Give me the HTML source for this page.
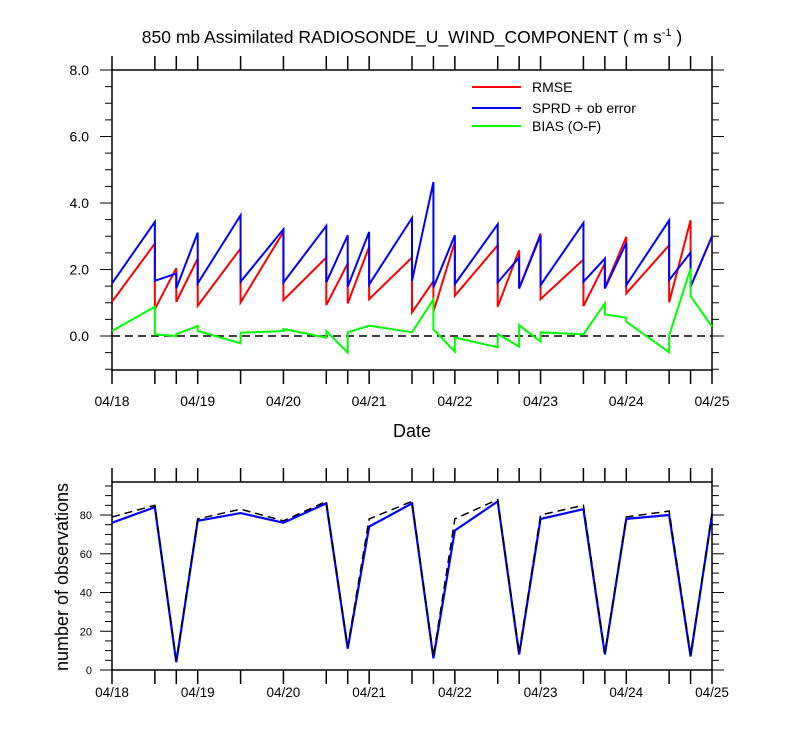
<!DOCTYPE html>
<html><head><meta charset="utf-8"><style>
body{margin:0;background:#fff}
svg text{font-family:"Liberation Sans",Arial,sans-serif;fill:#000}
</style></head><body>
<svg id="s" width="800" height="750" xmlns="http://www.w3.org/2000/svg">
<text x="412" y="43" font-size="17.5" text-anchor="middle">850 mb Assimilated RADIOSONDE_U_WIND_COMPONENT ( m s<tspan font-size="11" dy="-7">-1</tspan><tspan dy="7"> )</tspan></text>
<text x="412" y="437" font-size="18" text-anchor="middle">Date</text>
<text transform="translate(68,577) rotate(-90)" font-size="18" text-anchor="middle">number of observations</text>
<g id="legend">
<line x1="472" y1="87" x2="521" y2="87" stroke="#f00" stroke-width="2"/><text x="532" y="92" font-size="14">RMSE</text>
<line x1="472" y1="108" x2="521" y2="108" stroke="#00f" stroke-width="2"/><text x="532" y="113" font-size="14">SPRD + ob error</text>
<line x1="472" y1="126" x2="521" y2="126" stroke="#0f0" stroke-width="2"/><text x="532" y="131" font-size="14">BIAS (O-F)</text>
</g>
</svg>
<script>
const times=[0,0.5,0.75,1,1.5,2,2.5,2.75,3,3.5,3.75,4,4.5,4.75,5,5.5,5.75,6,6.5,6.75,7];
const dateLabels=["04/18","04/19","04/20","04/21","04/22","04/23","04/24","04/25"];
const topTicks=["0.0","2.0","4.0","6.0","8.0"];
const botTicks=["0","20","40","60","80"];
const rmseStart=[1.03,0.81,1.03,0.91,1.01,1.08,0.93,0.98,1.11,0.71,0.73,1.21,0.88,1.43,1.11,0.9,1.45,1.28,1.01,1.48];
const rmseEnd=[2.78,2.04,2.33,2.63,3.13,2.36,2.18,2.68,2.36,1.65,2.83,2.73,2.58,3.08,2.3,2.18,2.98,2.73,3.48,3.0];
const sprdStart=[1.58,1.66,1.43,1.58,1.63,1.61,1.61,1.48,1.55,1.66,1.46,1.56,1.61,1.43,1.53,1.63,1.43,1.53,1.68,1.48];
const sprdEnd=[3.43,1.88,3.11,3.63,3.21,3.31,3.03,3.13,3.55,4.63,3.03,3.36,2.36,3.03,3.4,2.33,2.8,3.48,2.51,3.0];
const biasStart=[0.15,0.05,0.06,0.15,0.1,0.21,0.15,0.11,0.31,0.11,0.2,-0.05,0.06,0.33,0.11,0.05,0.65,0.43,0.01,1.2];
const biasEnd=[0.88,0.0,0.3,-0.22,0.15,-0.05,-0.5,0.31,0.11,1.1,-0.47,-0.34,-0.32,-0.17,0.05,0.98,0.55,-0.49,2.03,0.28];
const obsUsed=[76,84,4,77,81,76,86,11,74,86,6,72,87,8,78,83,8,78,80,7,80];
const obsTotal=[79,85,5,78,83,77,87,12,78,87,7,78,88,9,80,85,9,79,82,8,81];

const svg=document.getElementById('s');const NS='http://www.w3.org/2000/svg';
const X0=112,X1=712;
const xs=t=>X0+(X1-X0)*t/7;
const yTop=v=>336-v*(266/8);
const yBot=v=>670-v*(155/80);
function mk(tag,attrs,parent){const e=document.createElementNS(NS,tag);for(const k in attrs)e.setAttribute(k,attrs[k]);(parent||svg).appendChild(e);return e;}
function frame(top,bot,name){
  const g=mk('g',{});
  
  
  mk('rect',{x:X0,y:top,width:X1-X0,height:bot-top,fill:'none',stroke:'#000','stroke-width':1.5},g);
  times.forEach(t=>{const x=xs(t);
    mk('line',{x1:x,y1:top,x2:x,y2:top-14,stroke:'#000','stroke-width':1.5},g);
    mk('line',{x1:x,y1:bot,x2:x,y2:bot+14,stroke:'#000','stroke-width':1.5},g);});
  return g;
}
const g1=frame(70,370,'top-plot-frame');
for(let v=-1;v<=8.001;v+=0.5){const y=yTop(v);const maj=Math.abs(v/2-Math.round(v/2))<1e-6;
  const L=maj?12:7;
  mk('line',{x1:X0,y1:y,x2:X0-L,y2:y,stroke:'#000'},g1);
  mk('line',{x1:X1,y1:y,x2:X1+L,y2:y,stroke:'#000'},g1);}
topTicks.forEach(s=>{const t=mk('text',{x:89,y:yTop(parseFloat(s))+5,'font-size':14,'text-anchor':'end'});t.textContent=s;
  
  });
dateLabels.forEach((s,i)=>{[[406,14],[697,13.5]].forEach(([yy,fs])=>{const t=mk('text',{x:xs(i),y:yy,'font-size':fs,'text-anchor':'middle'});t.textContent=s;
  
  });});
const zl=mk('line',{x1:X0,y1:yTop(0),x2:X1,y2:yTop(0),stroke:'#000','stroke-width':1.5,'stroke-dasharray':'8,5'});


function saw(st,en,col,name){let d='';
  for(let i=0;i<st.length;i++){d+=(i?'L':'M')+xs(times[i])+','+yTop(st[i])+'L'+xs(times[i+1])+','+yTop(en[i]);}
  const p=mk('path',{d:d,fill:'none',stroke:col,'stroke-width':2});
  
  }
saw(rmseStart,rmseEnd,'#f00','rmse-line');
saw(sprdStart,sprdEnd,'#00f','sprd-line');
saw(biasStart,biasEnd,'#0f0','bias-line');
const g2=frame(482,670,'bottom-plot-frame');
for(let v=0;v<=95;v+=5){const y=yBot(v);const maj=v%20==0;const L=maj?12:7;
  mk('line',{x1:X0,y1:y,x2:X0-L,y2:y,stroke:'#000'},g2);
  mk('line',{x1:X1,y1:y,x2:X1+L,y2:y,stroke:'#000'},g2);}
botTicks.forEach(s=>{const t=mk('text',{x:92,y:yBot(parseFloat(s))+4,'font-size':11,'text-anchor':'end'});t.textContent=s;
  
  });
function poly(vals,col,dash,name,w){const p=mk('polyline',{points:vals.map((v,i)=>xs(times[i])+','+yBot(v)).join(' '),fill:'none',stroke:col,'stroke-width':w});
  if(dash)p.setAttribute('stroke-dasharray',dash);
  
  }
poly(obsUsed,'#00f',null,'obs-used-line',2.2);
poly(obsTotal,'#000','8,5','obs-total-line',1.5);
svg.appendChild(document.getElementById('legend'));
</script>
</body></html>
